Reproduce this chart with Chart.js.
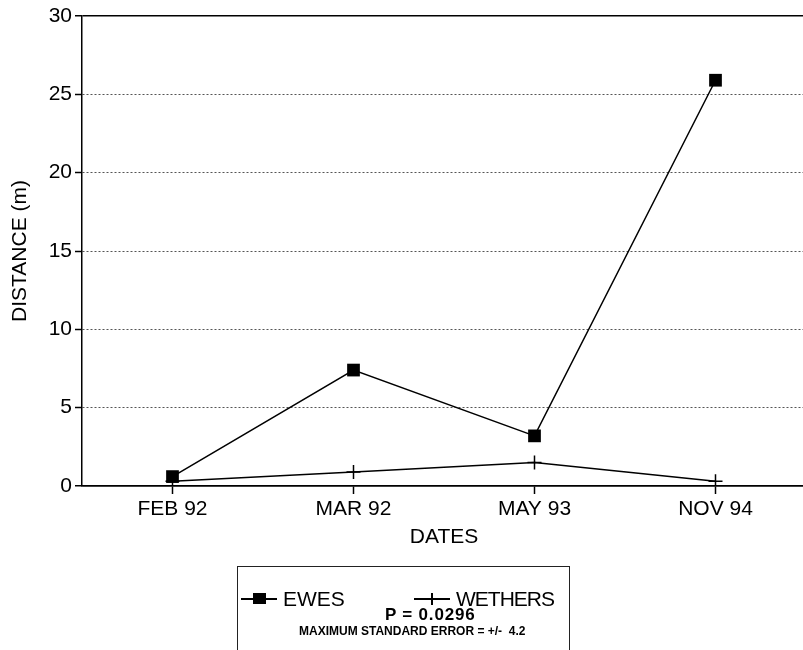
<!DOCTYPE html>
<html>
<head>
<meta charset="utf-8">
<script src="https://cdn.jsdelivr.net/npm/chart.js@4/dist/chart.umd.min.js"></script>
<style>
  html, body { margin: 0; padding: 0; background: #fff; overflow: hidden; width: 803px; height: 650px; }
  #wrap { position: absolute; left: 0; top: 0; width: 806px; height: 650px; }
  #legend { position: absolute; left: 237px; top: 566px; width: 331px; height: 100px;
    border: 1.5px solid #222; border-bottom: none; font-family: "Liberation Sans", Arial, sans-serif; color: #000; }
  .lbl { position: absolute; white-space: nowrap; }
  .ln { position: absolute; height: 1.5px; background: #000; }
  .sq { position: absolute; width: 13px; height: 11px; background: #000; }
  .vl { position: absolute; width: 1.5px; height: 12px; background: #000; }
</style>
</head>
<body>
<div id="wrap"><canvas id="c" width="806" height="650"></canvas></div>
<div id="legend">
  <div class="ln" style="left:3px; top:31px; width:36px;"></div>
  <div class="sq" style="left:15px; top:26px;"></div>
  <div class="lbl" style="left:45px; top:20px; font-size:21px;">EWES</div>
  <div class="ln" style="left:176px; top:31px; width:36px;"></div>
  <div class="vl" style="left:193px; top:26px;"></div>
  <div class="lbl" style="left:218px; top:20px; font-size:21px; letter-spacing:-1px;">WETHERS</div>
  <div class="lbl" style="left:147px; top:38px; font-size:17px; font-weight:bold; letter-spacing:0.8px;">P = 0.0296</div>
  <div class="lbl" style="left:61px; top:57px; font-size:12px; font-weight:bold;">MAXIMUM STANDARD ERROR = +/-&nbsp; 4.2</div>
</div>
<script>
const categories = ['FEB 92', 'MAR 92', 'MAY 93', 'NOV 94'];
const ewes = [0.6, 7.4, 3.2, 25.9];
const wethers = [0.3, 0.9, 1.5, 0.3];
const yMin = 0, yMax = 30, yStep = 5;

const FONT = '"Liberation Sans", Arial, sans-serif';
const isEdge = (ctx) => ctx.tick && (ctx.tick.value === yMax || ctx.tick.value === yMin);

new Chart(document.getElementById('c'), {
  type: 'line',
  data: {
    labels: categories,
    datasets: [
      { label: 'EWES', data: ewes, borderColor: '#000', backgroundColor: '#000', borderWidth: 1.5,
        pointStyle: 'rect', pointRadius: 9, pointBackgroundColor: '#000', pointBorderColor: '#000',
        pointBorderWidth: 0, tension: 0 },
      { label: 'WETHERS', data: wethers, borderColor: '#000', backgroundColor: '#000', borderWidth: 1.5,
        pointStyle: 'cross', pointRadius: 7, pointBorderColor: '#000', pointBorderWidth: 1.5, tension: 0 }
    ]
  },
  options: {
    responsive: false,
    animation: false,
    events: [],
    layout: { autoPadding: false, padding: { left: 0, right: 0, top: 16, bottom: 102 } },
    plugins: { legend: { display: false }, tooltip: { enabled: false } },
    scales: {
      x: {
        offset: true,
        grid: { drawOnChartArea: false, drawTicks: true, tickLength: 8, tickColor: '#000', tickWidth: 1.5, offset: false },
        border: { display: true, color: '#000', width: 1.5 },
        ticks: { color: '#000', font: { family: FONT, size: 21 }, padding: 3, maxRotation: 0 },
        title: { display: true, text: 'DATES', color: '#000', font: { family: FONT, size: 21 }, padding: { top: 0, bottom: -2 } },
        afterFit: (s) => { s.height = 62; }
      },
      y: {
        min: yMin, max: yMax,
        ticks: { stepSize: yStep, color: '#000', font: { family: FONT, size: 21 }, padding: 3 },
        grid: {
          color: (ctx) => isEdge(ctx) ? '#000' : '#555',
          lineWidth: (ctx) => isEdge(ctx) ? 1.5 : 1,
          tickLength: 7, tickColor: '#000', tickWidth: 1.5, tickBorderDash: []
        },
        border: { display: true, color: '#000', width: 1.5,
          dash: (ctx) => isEdge(ctx) ? [] : [2, 2] },
        title: { display: true, text: 'DISTANCE (m)', color: '#000', font: { family: FONT, size: 21 }, padding: { top: 8, bottom: 0 } },
        afterFit: (s) => { s.width = 82; }
      }
    }
  }
});
</script>
</body>
</html>
